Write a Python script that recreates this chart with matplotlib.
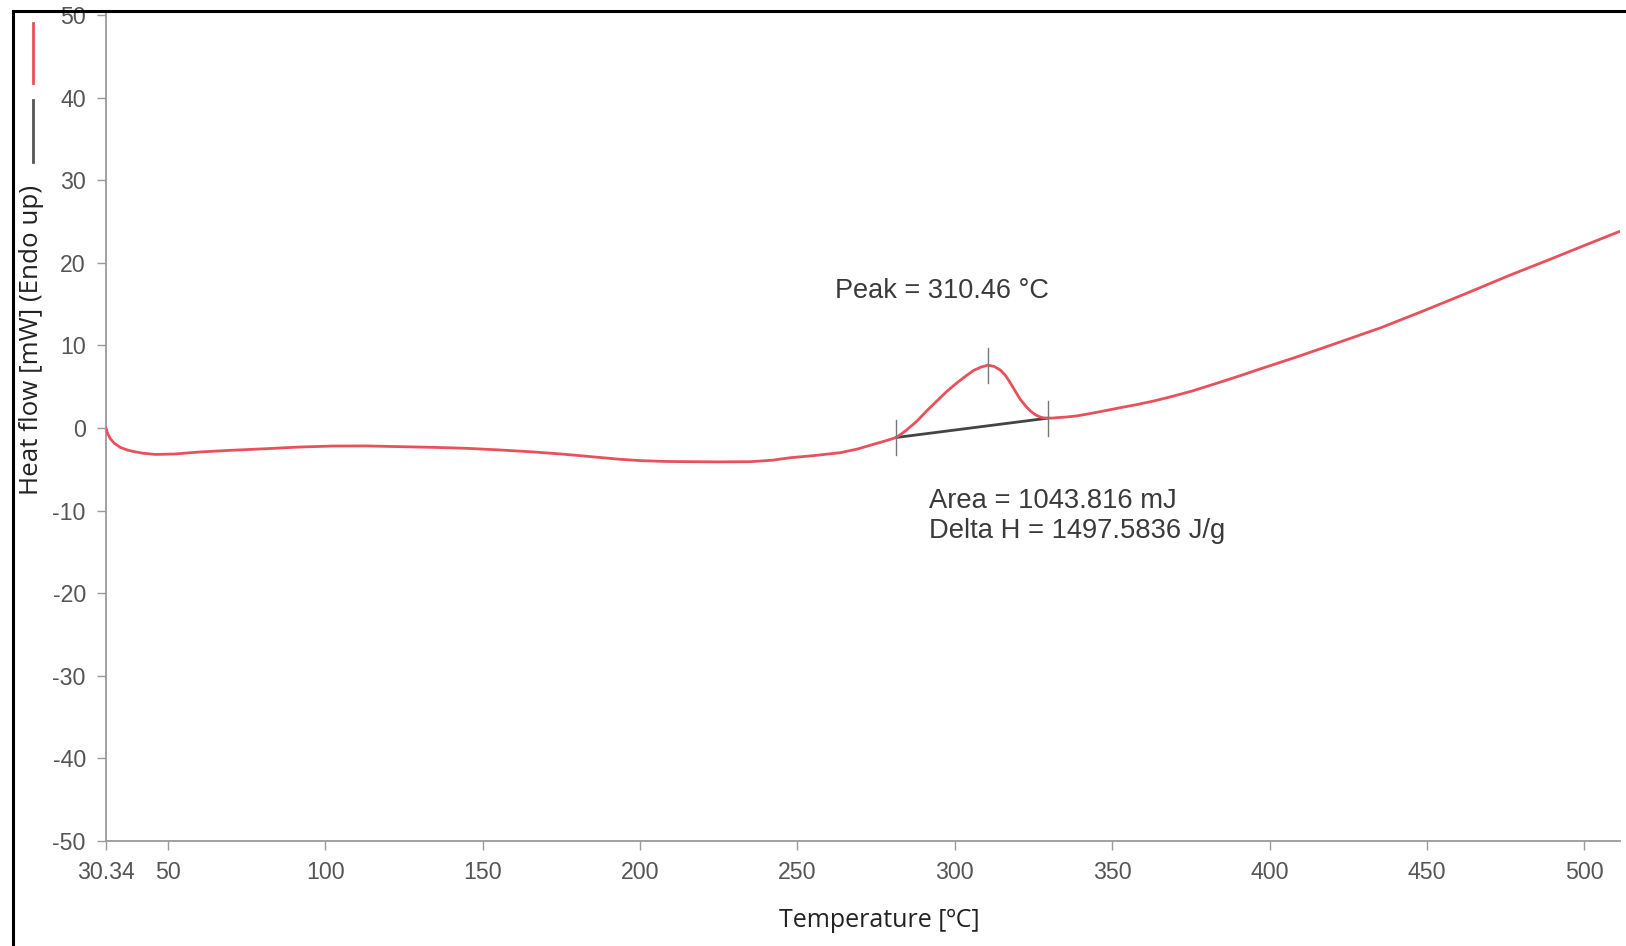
import matplotlib
matplotlib.use("Agg")
import matplotlib.pyplot as plt
from matplotlib.lines import Line2D
from matplotlib.patches import Rectangle

plt.rcParams["axes.unicode_minus"] = False

# DSC heating curve: temperature (°C) vs heat flow (mW, endo up)
temperature = [30.34, 30.8, 31.7, 33.0, 34.9, 37.0, 39.1, 42.0, 46.0, 52.0, 60.3, 70.0,
               81.5, 92.0, 102.7, 113.0, 123.9, 135.0, 145.0, 155.0, 166.2, 175.0, 182.1,
               193.7, 200.1, 208.0, 216.0, 225.0, 235.0, 242.0, 247.7, 255.0, 263.6, 269.0,
               274.2, 278.0, 281.4, 284.5, 288.0, 291.0, 294.3, 297.5, 300.7, 303.5, 306.0,
               308.5, 310.46, 312.5, 314.5, 316.0, 317.6, 319.2, 320.8, 322.4, 324.0, 325.6,
               327.1, 328.3, 329.5, 331.0, 332.5, 335.5, 338.8, 342.0, 346.2, 352.0, 358.0,
               363.2, 369.0, 375.6, 384.3, 390.0, 397.0, 408.2, 420.0, 435.4, 449.0,
               462.5, 476.0, 489.6, 500.0, 511.2]
heat_flow = [0.0, -0.6, -1.3, -1.85, -2.35, -2.65, -2.85, -3.05, -3.2, -3.15, -2.9, -2.7,
             -2.5, -2.3, -2.18, -2.17, -2.26, -2.35, -2.46, -2.65, -2.9, -3.15, -3.39,
             -3.79, -3.95, -4.05, -4.08, -4.1, -4.08, -3.9, -3.6, -3.35, -2.99, -2.55,
             -1.97, -1.55, -1.15, -0.3, 0.85, 2.05, 3.27, 4.45, 5.48, 6.3, 6.98,
             7.4, 7.6, 7.45, 7.0, 6.4, 5.48, 4.45, 3.47, 2.7, 2.06, 1.6,
             1.33, 1.22, 1.19, 1.2, 1.25, 1.33, 1.47, 1.68, 1.98, 2.42, 2.85,
             3.27, 3.82, 4.5, 5.55, 6.25, 7.15, 8.55, 10.1, 12.15, 14.2,
             16.3, 18.45, 20.5, 22.1, 23.8]

# Peak integration: onset, peak and end points
onset = (281.4, -1.15)
peak = (310.46, 7.6)
endset = (329.5, 1.19)
mark_half = 2.1  # half-length of the vertical markers (mW)

x_ticks = [30.34, 50, 100, 150, 200, 250, 300, 350, 400, 450, 500]
x_tick_labels = ["30.34", "50", "100", "150", "200", "250", "300", "350", "400", "450", "500"]
y_ticks = [-50, -40, -30, -20, -10, 0, 10, 20, 30, 40, 50]

peak_text = "Peak = 310.46 °C"
area_text = "Area = 1043.816 mJ\nDelta H = 1497.5836 J/g"

RED = "#e8505b"
BASE = "#444444"
MARK = "#777777"
AXIS = "#9a9a9a"
TICK_TXT = "#555555"

W, H = 1626, 946
fig = plt.figure(figsize=(W / 100, H / 100), dpi=100)
fig.patch.set_facecolor("white")

left_px, right_px, bottom_px, top_px = 106, 1620, 841, 11.7
ax = fig.add_axes([left_px / W, 1 - bottom_px / H,
                   (right_px - left_px) / W, (bottom_px - top_px) / H])
ax.set_xlim(30.34, 511.3)
ax.set_ylim(-50, 50.4)

ax.plot(temperature, heat_flow, color=RED, lw=2.0, solid_joinstyle="round",
        solid_capstyle="round", zorder=3)
ax.plot([onset[0], endset[0]], [onset[1], endset[1]], color=BASE, lw=2.0, zorder=2)
for px, py in (onset, peak, endset):
    ax.plot([px, px], [py - mark_half, py + mark_half], color=MARK, lw=1.0, zorder=4)

ax.text(262.0, 15.7, peak_text, fontsize=19.5, color="#3a3a3a",
        family="Liberation Sans", ha="left", va="baseline")
ax.text(291.8, -13.3, area_text, fontsize=19.7, color="#3a3a3a",
        family="Liberation Sans", ha="left", va="baseline", linespacing=1.2)

for side in ("top", "right"):
    ax.spines[side].set_visible(False)
for side in ("left", "bottom"):
    ax.spines[side].set_color(AXIS)
    ax.spines[side].set_linewidth(1.3)

ax.set_xticks(x_ticks)
ax.set_xticklabels(x_tick_labels)
ax.set_yticks(y_ticks)
ax.tick_params(axis="both", direction="out", length=6.5, width=1.0, color=AXIS,
               labelsize=16.7, labelcolor=TICK_TXT)
ax.tick_params(axis="x", pad=8)
ax.tick_params(axis="y", pad=8)
for lab in ax.get_xticklabels() + ax.get_yticklabels():
    lab.set_family("Liberation Sans")

fig.text(879 / W, 1 - 920 / H, "Temperature [ºC]", fontsize=18, color="#222222",
         family="Open Sans", ha="center", va="center")
fig.text(32 / W, 1 - 340 / H, "Heat flow [mW] (Endo up)", fontsize=18.7, color="#222222",
         family="Open Sans", ha="center", va="center", rotation=90)

# Series key: short coloured strokes at the top left
fig.add_artist(Line2D([33 / W, 33 / W], [1 - 23 / H, 1 - 83 / H], color=RED, lw=2.0,
                      transform=fig.transFigure))
fig.add_artist(Line2D([33 / W, 33 / W], [1 - 100 / H, 1 - 162 / H], color="#555555", lw=2.0,
                      transform=fig.transFigure))

# Window frame
fig.add_artist(Rectangle((12.7 / W, -0.1), 1.2, 1.1 - 11 / H, transform=fig.transFigure,
                         fill=False, edgecolor="black", lw=2.2, clip_on=False))

fig.savefig("out.png", dpi=100, facecolor="white")
